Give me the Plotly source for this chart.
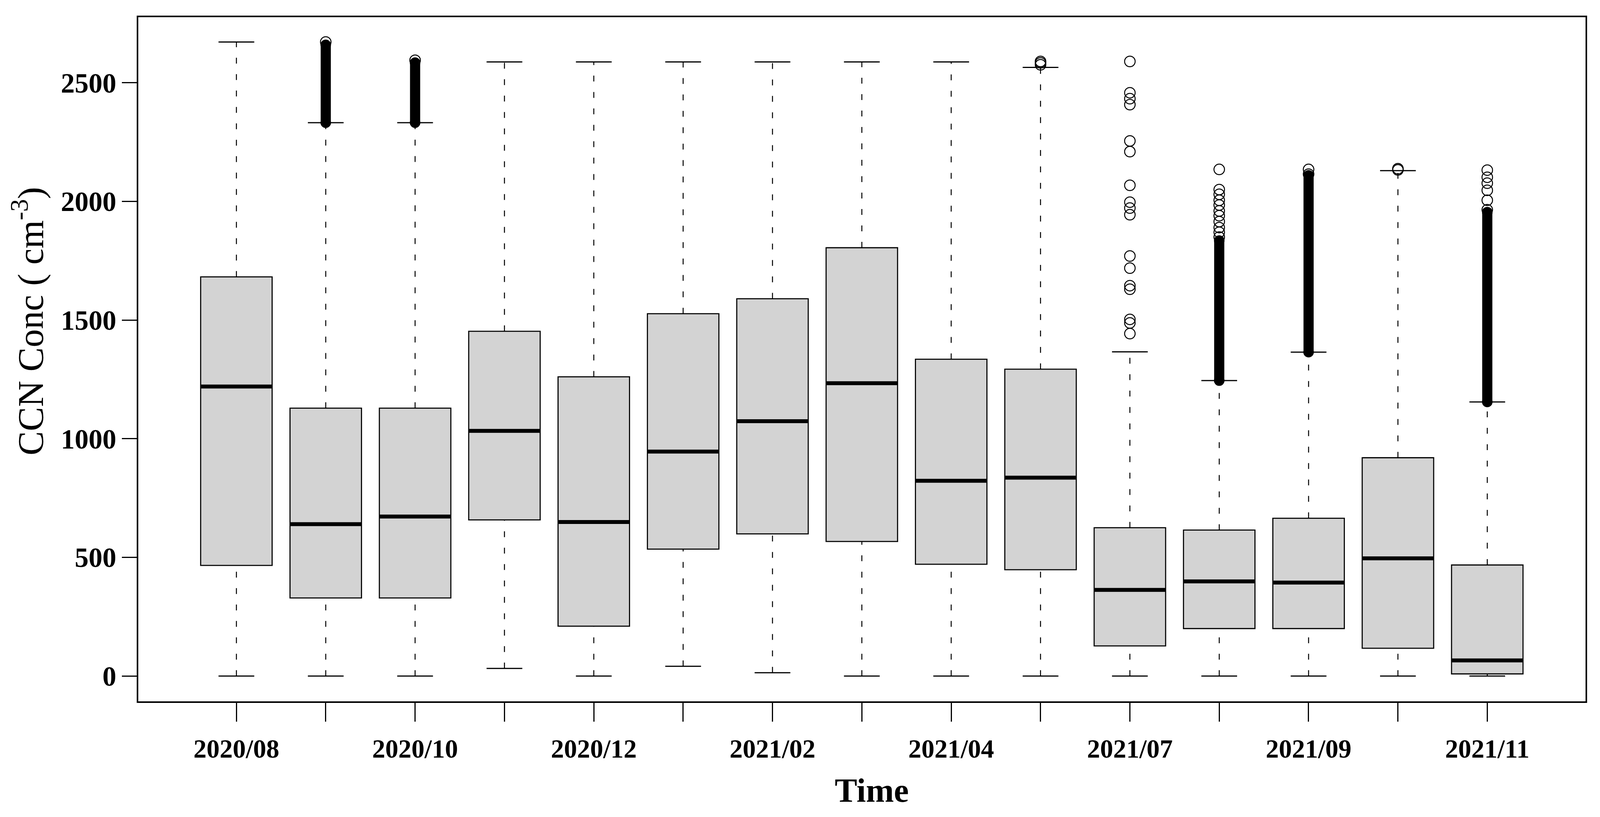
import plotly.graph_objects as go

# ---------------- data ----------------
months = ["2020/08", "2020/09", "2020/10", "2020/11", "2020/12", "2021/01", "2021/02",
          "2021/03", "2021/04", "2021/05", "2021/07", "2021/08", "2021/09", "2021/10", "2021/11"]
tick_labels = ["2020/08", " ", "2020/10", " ", "2020/12", " ", "2021/02", " ",
               "2021/04", " ", "2021/07", " ", "2021/09", " ", "2021/11"]
positions = list(range(1, len(months) + 1))

q1 = [466, 329, 329, 658, 210, 535, 599, 567, 471, 448, 127, 200, 200, 117, 9]
median = [1220, 640, 672, 1033, 649, 946, 1074, 1234, 823, 836, 363, 399, 394, 496, 66]
q3 = [1682, 1129, 1129, 1453, 1261, 1527, 1590, 1805, 1335, 1293, 625, 615, 665, 920, 468]
whisker_low = [0, 0, 0, 32, 0, 41, 14, 0, 0, 0, 0, 0, 0, 0, 0]
whisker_high = [2672, 2332, 2332, 2588, 2588, 2588, 2588, 2588, 2588, 2565, 1366, 1245, 1365, 2130, 1155]

# individually visible outliers (position -> values)
out_2020_09 = [2672]
out_2020_10 = [2595]
out_2021_05 = [2576, 2584, 2590]
out_2021_07 = [2590, 2458, 2433, 2408, 2255, 2210, 2068, 1997, 1972, 1944,
               1770, 1719, 1645, 1630, 1503, 1488, 1443]
out_2021_08 = [2135, 2050, 2030, 2005, 1985, 1960, 1940, 1915, 1890, 1870, 1850]
out_2021_09 = [2135, 2115]
out_2021_10 = [2133, 2138]
out_2021_11 = [2132, 2102, 2077, 2047, 2005, 1965]
outlier_sets = [(2, out_2020_09), (3, out_2020_10), (10, out_2021_05), (11, out_2021_07),
                (12, out_2021_08), (13, out_2021_09), (14, out_2021_10), (15, out_2021_11)]

# ranges where outliers are so dense they merge into a solid column
band_pos = [2, 3, 12, 13, 15]
band_lo = [2332, 2332, 1245, 1365, 1155]
band_hi = [2660, 2585, 1835, 2110, 1955]

y_ticks = [0, 500, 1000, 1500, 2000, 2500]

# ---------------- style ----------------
FONT = "Liberation Serif"
BOX_W = 0.8
CAP_HALF = 0.2
MARK = 27

fig = go.Figure()

fig.add_trace(go.Box(
    x=positions, q1=q1, median=median, q3=q3,
    lowerfence=q1, upperfence=q3, width=BOX_W, whiskerwidth=0,
    fillcolor="#d3d3d3", line=dict(color="black", width=2.8),
    showlegend=False, hoverinfo="skip", boxpoints=False,
))

# dashed whiskers
wx, wy = [], []
for p, lo, a, b, hi in zip(positions, whisker_low, q1, q3, whisker_high):
    wx += [p, p, None, p, p, None]
    wy += [b, hi, None, lo, a, None]
fig.add_trace(go.Scatter(x=wx, y=wy, mode="lines",
                         line=dict(color="black", width=2.5, dash="15px,27px"),
                         showlegend=False, hoverinfo="skip"))

# whisker caps
cx, cy = [], []
for p, lo, hi in zip(positions, whisker_low, whisker_high):
    cx += [p - CAP_HALF, p + CAP_HALF, None, p - CAP_HALF, p + CAP_HALF, None]
    cy += [hi, hi, None, lo, lo, None]
fig.add_trace(go.Scatter(x=cx, y=cy, mode="lines", line=dict(color="black", width=3),
                         showlegend=False, hoverinfo="skip"))

# thick medians
mx, my = [], []
for p, m in zip(positions, median):
    mx += [p - BOX_W / 2, p + BOX_W / 2, None]
    my += [m, m, None]
fig.add_trace(go.Scatter(x=mx, y=my, mode="lines", line=dict(color="black", width=10),
                         showlegend=False, hoverinfo="skip"))

# dense outlier columns
bx, by = [], []
for p, lo, hi in zip(band_pos, band_lo, band_hi):
    bx += [p, p, None]
    by += [lo, hi, None]
fig.add_trace(go.Scatter(x=bx, y=by, mode="lines", line=dict(color="black", width=MARK - 1),
                         showlegend=False, hoverinfo="skip"))
fig.add_trace(go.Scatter(x=band_pos, y=band_lo, mode="markers",
                         marker=dict(symbol="circle", size=MARK, color="black"),
                         showlegend=False, hoverinfo="skip"))
fig.add_trace(go.Scatter(x=band_pos, y=band_hi, mode="markers",
                         marker=dict(symbol="circle", size=MARK, color="black"),
                         showlegend=False, hoverinfo="skip"))

# individual outliers
ox, oy = [], []
for p, vals in outlier_sets:
    ox += [p] * len(vals)
    oy += vals
fig.add_trace(go.Scatter(x=ox, y=oy, mode="markers",
                         marker=dict(symbol="circle-open", size=MARK,
                                     line=dict(color="black", width=2.5), color="black"),
                         showlegend=False, hoverinfo="skip"))

fig.update_layout(
    autosize=True,
    margin=dict(l=0, r=0, t=0, b=0, autoexpand=False),
    paper_bgcolor="white", plot_bgcolor="white",
    xaxis=dict(domain=[0.0847, 0.9929], range=[-0.1, 16.1], tickmode="array",
               tickvals=positions, ticktext=tick_labels,
               ticks="outside", ticklen=48, tickwidth=3, tickcolor="black",
               ticklabelstandoff=12,
               showline=True, linecolor="black", linewidth=3.5, mirror=True,
               showgrid=False, zeroline=False, automargin=False,
               tickfont=dict(family=FONT, size=67, color="black", weight="bold")),
    yaxis=dict(domain=[0.1387, 0.9828], range=[-107, 2777], tickmode="array", tickvals=y_ticks,
               ticktext=[str(v) for v in y_ticks],
               ticks="outside", ticklen=38, tickwidth=3, tickcolor="black",
               showline=True, linecolor="black", linewidth=3.5, mirror=True,
               showgrid=False, zeroline=False, automargin=False,
               tickfont=dict(family=FONT, size=71, color="black", weight="bold")),
    annotations=[
        dict(text="CCN Conc ( cm<sup>-3</sup>)", textangle=-90, xref="paper", yref="y",
             x=0.0155, y=1495, xanchor="center", yanchor="middle", showarrow=False,
             font=dict(family=FONT, size=93, color="black")),
        dict(text="<b>Time</b>", xref="paper", yref="paper", x=0.545, y=0.029,
             xanchor="center", yanchor="middle", showarrow=False,
             font=dict(family=FONT, size=86, color="black")),
    ],
)

fig.write_html("out.html", default_width="100%", default_height="100%")
